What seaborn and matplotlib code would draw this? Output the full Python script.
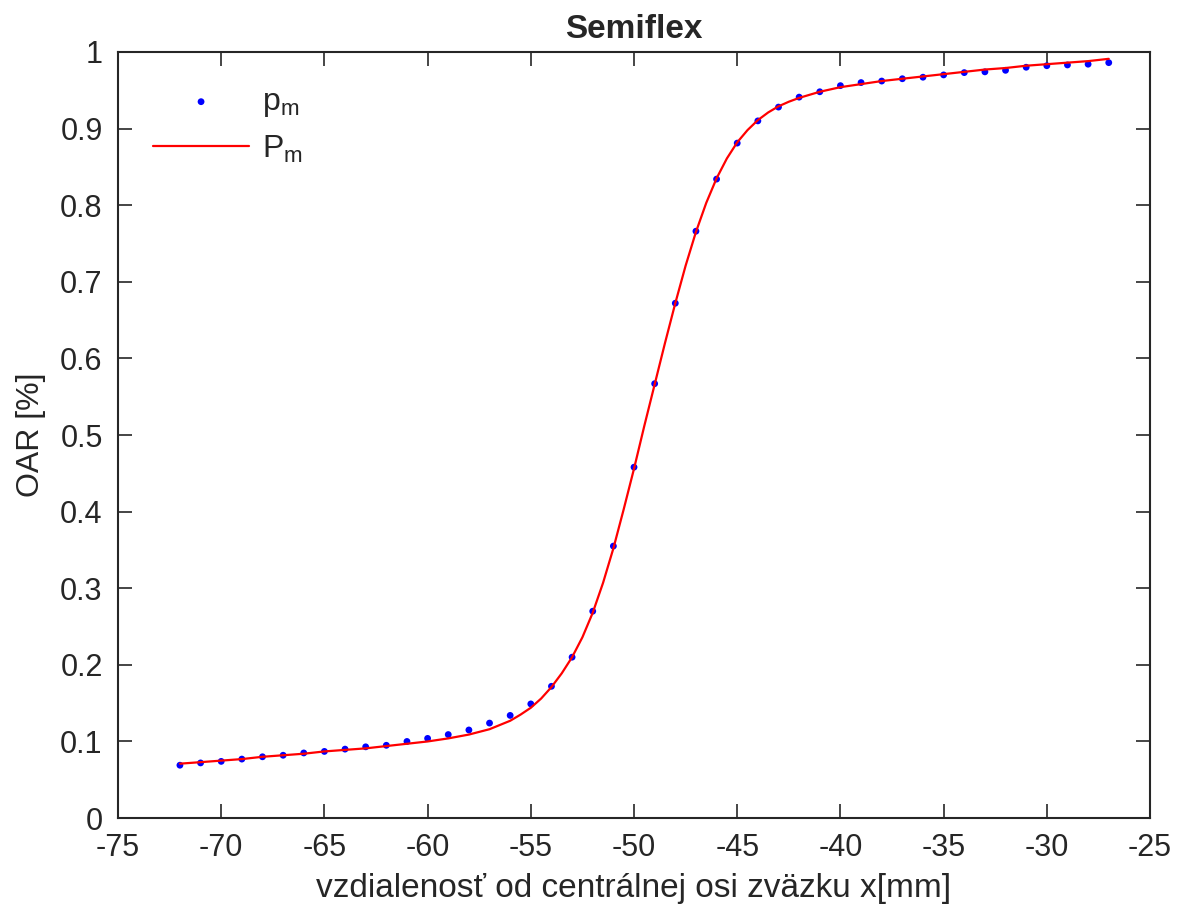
import numpy as np
import pandas as pd
import matplotlib
matplotlib.use("Agg")
import matplotlib.pyplot as plt
import seaborn as sns

# measured points p_m
x_meas = list(range(-72, -26))
p_meas = [0.069, 0.072, 0.074, 0.077, 0.080, 0.082, 0.085, 0.087, 0.090, 0.093,
          0.095, 0.100, 0.104, 0.109, 0.115, 0.124, 0.134, 0.149, 0.172, 0.210,
          0.270, 0.355, 0.458, 0.567, 0.672, 0.766, 0.834, 0.881, 0.910, 0.928,
          0.941, 0.948, 0.956, 0.960, 0.962, 0.965, 0.967, 0.970, 0.973, 0.974,
          0.976, 0.980, 0.982, 0.983, 0.984, 0.986]

# fitted curve P_m
x_fit = [-72, -71, -70, -69, -68, -67, -66, -65, -64, -63, -62, -61, -60, -59,
         -58, -57, -56, -55.5, -55, -54.5, -54, -53.5, -53, -52.5, -52, -51.5,
         -51, -50.5, -50, -49.5, -49, -48.5, -48, -47.5, -47, -46.5, -46, -45.5,
         -45, -44.5, -44, -43.5, -43, -42.5, -42, -41, -40, -39, -38, -37, -36,
         -35, -34, -33, -32, -31, -30, -29, -28, -27]
p_fit = [0.071, 0.073, 0.075, 0.077, 0.080, 0.082, 0.084, 0.087, 0.089, 0.091,
         0.094, 0.097, 0.100, 0.104, 0.109, 0.116, 0.127, 0.135, 0.144, 0.156,
         0.171, 0.189, 0.210, 0.236, 0.268, 0.307, 0.352, 0.403, 0.456, 0.512,
         0.566, 0.620, 0.672, 0.721, 0.765, 0.803, 0.835, 0.861, 0.882, 0.898,
         0.911, 0.921, 0.929, 0.935, 0.940, 0.948, 0.954, 0.958, 0.962, 0.965,
         0.968, 0.971, 0.974, 0.977, 0.979, 0.982, 0.984, 0.986, 0.988, 0.991]

x_ticks = list(range(-75, -24, 5))
y_ticks = [0, 0.1, 0.2, 0.3, 0.4, 0.5, 0.6, 0.7, 0.8, 0.9, 1]
y_ticklabels = ["0", "0.1", "0.2", "0.3", "0.4", "0.5", "0.6", "0.7", "0.8", "0.9", "1"]

sns.set_style("ticks")
plt.rcParams['font.family'] = ['Liberation Sans', 'DejaVu Sans']
plt.rcParams['mathtext.fontset'] = 'custom'
plt.rcParams['mathtext.rm'] = 'Liberation Sans'

df_meas = pd.DataFrame({"x": x_meas, "p": p_meas})
df_fit = pd.DataFrame({"x": x_fit, "p": p_fit})

fig = plt.figure(figsize=(11.8, 9.11), dpi=100)
ax = fig.add_axes([0.1, 0.102, 0.8746, 0.841])

sns.scatterplot(data=df_meas, x="x", y="p", ax=ax, color="#0000ff", s=24,
                edgecolor="none", label=r"$\mathregular{p_m}$", zorder=2)
sns.lineplot(data=df_fit, x="x", y="p", ax=ax, color="#ff0000", linewidth=1.6,
             label=r"$\mathregular{P_m}$", zorder=3)

ax.set_xlim(-75, -25)
ax.set_ylim(0, 1)
ax.set_xticks(x_ticks)
ax.set_xticklabels([str(t) for t in x_ticks])
ax.set_yticks(y_ticks)
ax.set_yticklabels(y_ticklabels)
ax.tick_params(direction="in", length=10, width=1.2, labelsize=22, colors="#262626",
               top=True, right=True, pad=11)
for sp in ax.spines.values():
    sp.set_visible(True)
    sp.set_linewidth(1.5)
    sp.set_color("#262626")

ax.set_xlabel("vzdialenosť od centrálnej osi zväzku x[mm]", fontsize=24,
              color="#262626", labelpad=7)
ax.set_ylabel("OAR [%]", fontsize=23, color="#262626", labelpad=10)
ax.set_title("Semiflex", fontsize=24, fontweight="bold", pad=10)

leg = ax.legend(loc="upper left", frameon=False, fontsize=23, handlelength=3.0,
                handletextpad=0.4, markerscale=1.0, borderaxespad=0.3,
                labelspacing=0.45, borderpad=0.8)

plt.savefig("out.png", dpi=100)
